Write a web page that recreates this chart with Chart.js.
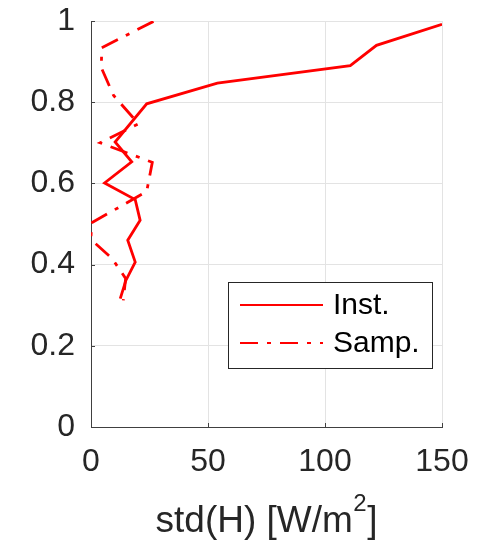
<!DOCTYPE html>
<html lang="en">
<head>
    <meta charset="UTF-8">
    <title>std(H) profile</title>
    <script src="https://cdn.jsdelivr.net/npm/chart.js"></script>
    <style>
        html, body { margin: 0; padding: 0; background: white; }
        #wrap { width: 479px; height: 540px; }
    </style>
</head>
<body>
    <div id="wrap"><canvas id="chart"></canvas></div>
    <script>
    // values
    const instH = [150, 122, 110.8, 54, 23.8, 10.3, 17.4, 5.8, 18.9, 21, 15.7, 18.9, 14.9, 12.5];
    const instZ = [0.992, 0.94, 0.89, 0.847, 0.796, 0.702, 0.653, 0.601, 0.56, 0.509, 0.46, 0.406, 0.361, 0.316];
    const sampH = [26.7, 4.6, 4.4, 9.6, 20.3, 3.9, 26.2, 23.8, 0.3, 0, 1.3, 9, 14.8, 13.8];
    const sampZ = [0.999, 0.934, 0.885, 0.817, 0.747, 0.70, 0.652, 0.58, 0.503, 0.47, 0.455, 0.415, 0.366, 0.312];
    const xTicks = [0, 50, 100, 150];
    const yTicks = [0, 0.2, 0.4, 0.6, 0.8, 1];
    const xLabel = ['std(H) [W/m', '2', ']'];   // middle part is a superscript

    const FONT = '"Liberation Sans", Arial, sans-serif';
    const AXIS = '#404040';
    const TEXT = '#262626';
    const sampDash = [18, 9, 4, 9];

    const toPts = (xs, ys) => xs.map((x, i) => ({ x: x, y: ys[i] }));

    // MATLAB style inward tick marks
    const innerTicks = {
        id: 'innerTicks',
        afterDatasetsDraw(chart) {
            const ctx = chart.ctx;
            const xs = chart.scales.x, ys = chart.scales.y;
            const a = chart.chartArea;
            ctx.save();
            ctx.strokeStyle = AXIS;
            ctx.lineWidth = 1;
            ctx.beginPath();
            xTicks.forEach(v => {
                const px = Math.round(xs.getPixelForValue(v)) + 0.5;
                ctx.moveTo(px, a.bottom);
                ctx.lineTo(px, a.bottom - 4);
            });
            yTicks.forEach(v => {
                const py = Math.round(ys.getPixelForValue(v)) + 0.5;
                ctx.moveTo(a.left, py);
                ctx.lineTo(a.left + 4, py);
            });
            ctx.stroke();
            ctx.restore();
        }
    };

    // x axis label with a real superscript
    const axisTitle = {
        id: 'axisTitle',
        afterDraw(chart) {
            const ctx = chart.ctx;
            const a = chart.chartArea;
            const big = '37px ' + FONT, small = '24px ' + FONT;
            ctx.save();
            ctx.fillStyle = TEXT;
            ctx.textBaseline = 'alphabetic';
            ctx.textAlign = 'left';
            ctx.font = big;
            const w0 = ctx.measureText(xLabel[0]).width;
            const w2 = ctx.measureText(xLabel[2]).width;
            ctx.font = small;
            const w1 = ctx.measureText(xLabel[1]).width + 1;
            const base = a.bottom + 105;
            let x = (a.left + a.right) / 2 - (w0 + w1 + w2) / 2;
            ctx.font = big;
            ctx.fillText(xLabel[0], x, base);
            x += w0;
            ctx.font = small;
            ctx.fillText(xLabel[1], x + 0.5, base - 21);
            x += w1;
            ctx.font = big;
            ctx.fillText(xLabel[2], x, base);
            ctx.restore();
        }
    };

    // legend box drawn inside the axes
    const boxLegend = {
        id: 'boxLegend',
        afterDraw(chart) {
            const ctx = chart.ctx;
            const a = chart.chartArea;
            const w = 204, h = 86;
            const left = a.right - 10 - w;
            const top = a.bottom - 59 - h;
            ctx.save();
            ctx.fillStyle = '#fff';
            ctx.fillRect(left, top, w, h);
            ctx.strokeStyle = '#262626';
            ctx.lineWidth = 1;
            ctx.strokeRect(Math.round(left) + 0.5, Math.round(top) + 0.5, w, h);
            ctx.font = '30px ' + FONT;
            ctx.textBaseline = 'middle';
            ctx.fillStyle = '#000';
            chart.data.datasets.forEach((ds, i) => {
                const y = top + 23 + i * 38;
                ctx.strokeStyle = ds.borderColor;
                ctx.lineWidth = 2.2;
                ctx.setLineDash(ds.borderDash || []);
                ctx.beginPath();
                ctx.moveTo(left + 12, y);
                ctx.lineTo(left + 95, y);
                ctx.stroke();
                ctx.setLineDash([]);
                ctx.fillText(ds.label, left + 105, y + 1);
            });
            ctx.restore();
        }
    };

    new Chart(document.getElementById('chart'), {
        type: 'scatter',
        data: {
            datasets: [{
                label: 'Inst.',
                data: toPts(instH, instZ),
                showLine: true,
                borderColor: '#ff0000',
                borderWidth: 2.8,
                pointRadius: 0
            }, {
                label: 'Samp.',
                data: toPts(sampH, sampZ),
                showLine: true,
                borderColor: '#ff0000',
                borderWidth: 2.8,
                borderDash: sampDash,
                pointRadius: 0
            }]
        },
        options: {
            responsive: true,
            maintainAspectRatio: false,
            animation: false,
            layout: { padding: { top: 21, right: 37, left: 0, bottom: 0 } },
            plugins: {
                legend: { display: false },
                tooltip: { enabled: false }
            },
            scales: {
                x: {
                    type: 'linear',
                    min: 0,
                    max: 150,
                    afterBuildTicks: s => { s.ticks = xTicks.map(v => ({ value: v })); },
                    afterFit: s => { s.height = 113; s.paddingLeft = 0; s.paddingRight = 0; },
                    ticks: { font: { family: FONT, size: 32 }, color: TEXT, padding: 16, callback: v => String(v) },
                    grid: { color: '#e3e3e3', drawTicks: false },
                    border: { color: AXIS }
                },
                y: {
                    type: 'linear',
                    min: 0,
                    max: 1,
                    afterBuildTicks: s => { s.ticks = yTicks.map(v => ({ value: v })); },
                    afterFit: s => { s.width = 91; s.paddingTop = 0; s.paddingBottom = 0; },
                    ticks: { font: { family: FONT, size: 32 }, color: TEXT, padding: 16, callback: v => String(v) },
                    grid: { color: '#e3e3e3', drawTicks: false },
                    border: { color: AXIS }
                }
            }
        },
        plugins: [innerTicks, axisTitle, boxLegend]
    });
    </script>
</body>
</html>
